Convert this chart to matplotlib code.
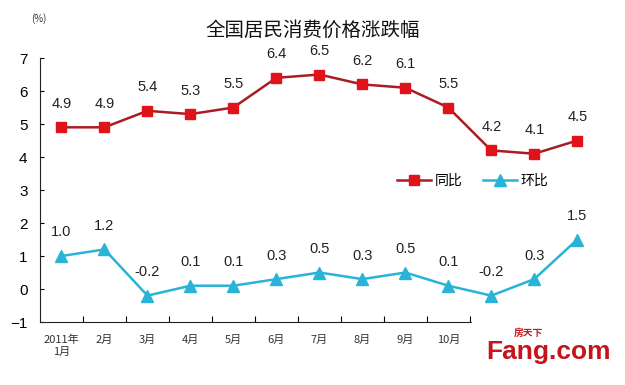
import matplotlib.pyplot as plt

plt.rcParams['font.family'] = ['Liberation Sans', 'Noto Sans CJK SC', 'DejaVu Sans']

months = ['2011年\n1月', '2月', '3月', '4月', '5月', '6月', '7月', '8月', '9月', '10月',
          '11月', '12月', '2012年\n1月']
yoy = [4.9, 4.9, 5.4, 5.3, 5.5, 6.4, 6.5, 6.2, 6.1, 5.5, 4.2, 4.1, 4.5]
mom = [1.0, 1.2, -0.2, 0.1, 0.1, 0.3, 0.5, 0.3, 0.5, 0.1, -0.2, 0.3, 1.5]
n_visible = 10  # the last month labels sit under the watermark

red_line = '#A81C24'
red_mark = '#E0131B'
cyan = '#29B3D6'

fig = plt.figure(figsize=(6.25, 3.85), dpi=100)
ax = fig.add_axes([0.064, 0.1636, 0.894, 0.6857])

x = list(range(len(months)))
ax.plot(x, yoy, color=red_line, lw=1.8, marker='s', ms=7,
        mfc=red_mark, mec=red_mark, label='同比')
ax.plot(x, mom, color=cyan, lw=1.8, marker='^', ms=8,
        mfc=cyan, mec=cyan, label='环比')

for series in (yoy, mom):
    for xi, v in zip(x, series):
        ax.annotate(f'{v:.1f}', (xi, v), xytext=(0, 17), textcoords='offset points',
                    ha='center', va='center', fontsize=10.5, color='#222222')

ax.set_xlim(-0.5, len(months) - 0.5)
ax.set_ylim(-1, 7)
ax.set_yticks(range(-1, 8))
ax.tick_params(axis='y', direction='in', length=3, labelsize=11, pad=9)
ax.set_xticks([i + 0.5 for i in range(len(months) - 1)])
ax.set_xticklabels([])
ax.set_xticks(x, minor=True)
ax.set_xticklabels([m if i < n_visible else '' for i, m in enumerate(months)],
                   minor=True, fontsize=8, color='#333333',
                   family=['Noto Sans CJK SC', 'DejaVu Sans'])
ax.tick_params(axis='x', which='major', direction='in', length=4)
ax.tick_params(axis='x', which='minor', length=0, pad=9)
for s in ['top', 'right']:
    ax.spines[s].set_visible(False)
for s in ['left', 'bottom']:
    ax.spines[s].set_color('#222222')

ax.legend(loc='center', bbox_to_anchor=(0.775, 0.536), ncol=2, frameon=False,
          handlelength=2.4, columnspacing=1.5, handletextpad=0.3,
          prop={'family': ['Noto Sans CJK SC', 'DejaVu Sans'], 'size': 10})

fig.text(0.5, 0.922, '全国居民消费价格涨跌幅', ha='center', va='center', fontsize=14,
         family=['Noto Sans CJK SC', 'DejaVu Sans'], color='#111111')
fig.text(0.062, 0.952, '(%)', ha='center', va='center', fontsize=7,
         family=['Noto Sans CJK SC', 'DejaVu Sans'], color='#333333')

# watermark
fig.patches.append(plt.Rectangle((0.755, 0.0), 0.245, 0.18, transform=fig.transFigure,
                                 color='white', zorder=5))
fig.text(0.877, 0.085, 'Fang.com', ha='center', va='center', fontsize=19,
         fontweight='bold', color='#C4151C', zorder=6)
fig.text(0.845, 0.135, '房天下', ha='center', va='center', fontsize=7,
         fontweight='bold', color='#C4151C', zorder=6,
         family=['Noto Sans CJK SC', 'DejaVu Sans'])

fig.savefig('out.png', dpi=100)
